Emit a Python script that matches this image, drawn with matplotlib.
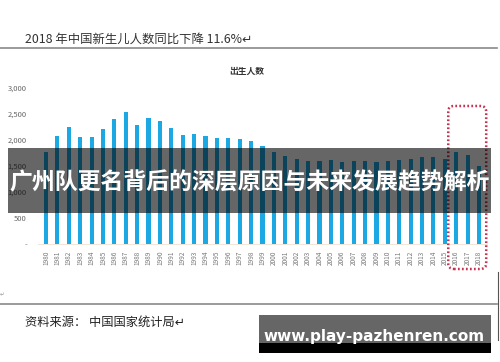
import numpy as np
import matplotlib
matplotlib.use('Agg')
import matplotlib.pyplot as plt
from matplotlib.patches import Rectangle, FancyBboxPatch
from matplotlib.ticker import FuncFormatter

plt.rcParams['font.family'] = ['Noto Sans CJK SC', 'DejaVu Sans']

##############################################################################
# DATA (births per year, 10k people)
years = np.arange(1980, 2019)
births = [1775, 2077, 2244, 2064, 2058, 2205, 2397, 2532, 2282, 2417,
          2372, 2237, 2102, 2109, 2083, 2045, 2045, 2019, 1981, 1890,
          1763, 1692, 1635, 1590, 1590, 1609, 1571, 1590, 1603, 1577,
          1590, 1622, 1628, 1673, 1673, 1641, 1769, 1705, 1506]
year_labels = [str(y) for y in years]
highlight_years = [2016, 2018]

page_title = '2018 年中国新生儿人数同比下降 11.6%↵'
chart_title = '出生人数'
source_text = '资料来源： 中国国家统计局↵'
banner_text = '广州队更名背后的深层原因与未来发展趋势解析'
site_text = 'www.play-pazhenren.com'

##############################################################################
# FIGURE
W, H = 500, 362
fig = plt.figure(figsize=(W/100, H/100), dpi=100)

def fx(px):
    return px / W

def fy(py):
    return 1 - py / H

# page decorations
fig.text(fx(25), fy(39), page_title, fontsize=8.9, color='#333333',
         ha='left', va='center')
fig.add_artist(plt.Line2D([0, fx(497)], [fy(48), fy(48)], color='#8a8a8a', lw=1.2))
fig.add_artist(plt.Line2D([0, fx(497)], [fy(304), fy(304)], color='#8a8a8a', lw=1.2))
fig.add_artist(plt.Line2D([fx(498), fx(498)], [fy(272), fy(340)], color='#555555', lw=0.8))
fig.text(fx(0), fy(295), '↵', fontsize=4, color='#999999', ha='left', va='center')
fig.text(fx(25), fy(322), source_text, fontsize=8.8, color='#222222',
         ha='left', va='center')

##############################################################################
# CHART
ax = fig.add_axes([fx(38), fy(244), fx(487) - fx(38), fy(88) - fy(244)])
ax.bar(years, births, width=0.36, color='#1ca8e2', zorder=2)
ax.set_xlim(1979.3, 2018.7)
ax.set_ylim(0, 3000)
ax.set_yticks(np.arange(0, 3001, 500))
ax.yaxis.set_major_formatter(FuncFormatter(lambda v, p: '-' if v == 0 else '{:,.0f}'.format(v)))
ax.set_xticks(years)
ax.set_xticklabels(year_labels, rotation=90, fontsize=4.6, color='#777777')
ax.tick_params(axis='y', length=0, labelsize=5.5, labelcolor='#666666', pad=8)
ax.tick_params(axis='x', length=0, pad=5)
for s in ['top', 'right', 'left']:
    ax.spines[s].set_visible(False)
ax.spines['bottom'].set_color('#f1e2d2')
ax.spines['bottom'].set_linewidth(0.6)
fig.text(fx(247), fy(71), chart_title, fontsize=6.3, color='#333333',
         ha='center', va='center', weight='bold')

# red dotted rounded box around the last three years
x0 = highlight_years[0] - 0.7
x1 = highlight_years[1] + 0.63
y0, y1 = -481, 2654
aspect = (3000 / 156) * 11.39
box = FancyBboxPatch((x0, y0), x1 - x0, y1 - y0,
                     boxstyle='round,pad=0,rounding_size=0.5',
                     mutation_aspect=aspect, fill=False, ec='#c43350',
                     lw=1.8, ls=(0, (0.7, 0.9)), clip_on=False, zorder=5)
ax.add_patch(box)

##############################################################################
# OVERLAYS
fig.add_artist(Rectangle((fx(8), fy(213)), fx(491) - fx(8), fy(148) - fy(213),
                         transform=fig.transFigure, fc='black', alpha=0.6,
                         ec='none', zorder=10))
fig.text(fx(250), fy(183), banner_text, fontsize=16.5, color='white',
         weight='bold', ha='center', va='center', zorder=11)

fig.add_artist(Rectangle((fx(259), fy(353)), fx(491) - fx(259), fy(315) - fy(353),
                         transform=fig.transFigure, fc='#666666', ec='none', zorder=10))
fig.add_artist(Rectangle((fx(259), fy(353)), fx(491) - fx(259), fy(343) - fy(353),
                         transform=fig.transFigure, fc='black', ec='none', zorder=10))
fig.text(fx(374), fy(336), site_text, fontsize=11, color='white',
         weight='bold', ha='center', va='center', zorder=11,
         family='DejaVu Sans')

plt.savefig('out.png', dpi=100)
plt.close()
